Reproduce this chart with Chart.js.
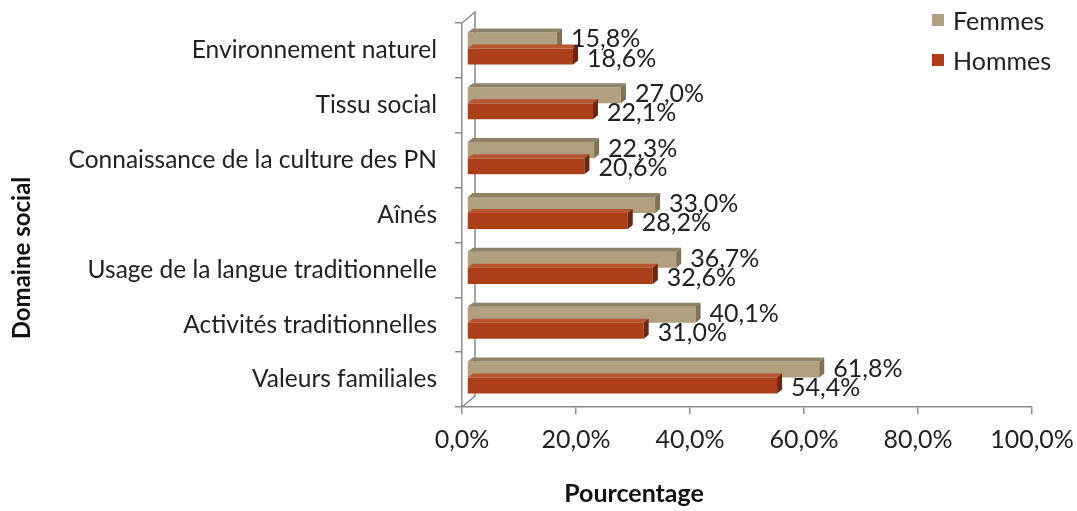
<!DOCTYPE html>
<html><head><meta charset="utf-8">
<script src="https://cdn.jsdelivr.net/npm/chart.js@4/dist/chart.umd.min.js"></script>
<style>
html,body{margin:0;padding:0;background:#fff;}
#wrap{position:relative;width:1077px;height:511px;}
#legend{position:absolute;left:932px;top:0px;font-family:Lato,"Open Sans",sans-serif;font-size:25px;color:#222;}
#legend div{display:flex;align-items:center;height:40px;}
#legend span.sw{display:inline-block;width:12px;height:12px;margin-right:9px;}
</style>
</head><body>
<div id="wrap"><canvas id="c" width="1077" height="511"></canvas>
<div id="legend"></div></div>
<script>
const categories = ["Environnement naturel","Tissu social","Connaissance de la culture des PN","Aînés","Usage de la langue traditionnelle","Activités traditionnelles","Valeurs familiales"];
const femmes = [15.8, 27.0, 22.3, 33.0, 36.7, 40.1, 61.8];
const hommes = [18.6, 22.1, 20.6, 28.2, 32.6, 31.0, 54.4];
const seriesNames = ["Femmes","Hommes"];
const xTicks = [0,20,40,60,80,100];
const xTitle = "Pourcentage";
const yTitle = "Domaine social";

const colors = ["#B1A07F","#AA3F18"];
const sideColors = ["#7E7159","#6C2710"];
const topColors = ["#8F8268","#B65530"];
const axisColor = "#8C8C8C";
const FONT = 'Lato, "Open Sans", sans-serif';
const fmt = v => v.toFixed(1).replace('.', ',') + '%';

const DX = 5, DY = 4;      // 3D depth of each bar
const SHIFT_X = 5, SHIFT_Y = -2;  // perspective offset of the bar layer
const WALL_X = 13, WALL_Y = 11;

const depthPlugin = {
  id:'depth',
  beforeDatasetsDraw(chart){
    const ctx = chart.ctx, a = chart.chartArea;
    ctx.save();
    ctx.strokeStyle = axisColor; ctx.lineWidth = 1.5;
    ctx.beginPath();
    ctx.moveTo(a.left, a.top); ctx.lineTo(a.left+WALL_X, a.top-WALL_Y);
    ctx.lineTo(a.left+WALL_X, a.bottom-WALL_Y); ctx.lineTo(a.left, a.bottom);
    ctx.stroke();
    ctx.restore();
    ctx.save();
    ctx.translate(SHIFT_X, SHIFT_Y);
  },
  afterDatasetsDraw(chart){
    const ctx = chart.ctx;
    chart.data.datasets.forEach((ds,di)=>{
      const meta = chart.getDatasetMeta(di);
      meta.data.forEach((el)=>{
        const p = el.getProps(['x','y','base','height'],true);
        const top = p.y - p.height/2, bot = p.y + p.height/2;
        ctx.fillStyle = topColors[di];
        ctx.beginPath();
        ctx.moveTo(p.base, top); ctx.lineTo(p.base+DX, top-DY);
        ctx.lineTo(p.x+DX, top-DY); ctx.lineTo(p.x, top); ctx.closePath(); ctx.fill();
        ctx.fillStyle = sideColors[di];
        ctx.beginPath();
        ctx.moveTo(p.x, top); ctx.lineTo(p.x+DX, top-DY);
        ctx.lineTo(p.x+DX, bot-DY); ctx.lineTo(p.x, bot); ctx.closePath(); ctx.fill();
      });
    });
    ctx.restore();
  }
};
const labelPlugin = {
  id:'vlabels',
  afterDraw(chart){
    const ctx = chart.ctx;
    ctx.save();
    ctx.font = '25px ' + FONT;
    ctx.fillStyle = '#222';
    ctx.textBaseline = 'middle';
    ctx.textAlign = 'left';
    chart.data.datasets.forEach((ds,di)=>{
      const meta = chart.getDatasetMeta(di);
      meta.data.forEach((el,i)=>{
        const p = el.getProps(['x','y'],true);
        ctx.fillText(fmt(ds.data[i]), p.x + SHIFT_X + 14, p.y + SHIFT_Y + (di===0?-1:2));
      });
    });
    // axis titles
    ctx.font = 'bold 25px ' + FONT;
    ctx.fillStyle = '#111';
    ctx.textAlign = 'center';
    ctx.fillText(xTitle, 634, 494);
    ctx.translate(22, 258);
    ctx.rotate(-Math.PI/2);
    ctx.font = 'bold 24px ' + FONT;
    ctx.fillText(yTitle, 0, 0);
    ctx.restore();
  }
};

document.getElementById('legend').innerHTML = seriesNames.map((n,i)=>
  `<div><span class="sw" style="background:${colors[i]}"></span>${n}</div>`).join('');

new Chart(document.getElementById('c'), {
  type:'bar',
  data:{ labels:categories, datasets:[
    {label:seriesNames[0], data:femmes, backgroundColor:colors[0], categoryPercentage:0.585, barPercentage:1.0},
    {label:seriesNames[1], data:hommes, backgroundColor:colors[1], categoryPercentage:0.585, barPercentage:1.0}
  ]},
  options:{
    indexAxis:'y', responsive:false, animation:false,
    layout:{padding:{top:23,right:45,left:0,bottom:0}},
    plugins:{legend:{display:false}, tooltip:{enabled:false}},
    scales:{
      x:{ min:0, max:100,
        afterBuildTicks(s){ s.ticks = xTicks.map(v=>({value:v})); },
        afterFit(s){ s.height = 104; s.paddingLeft = 0; s.paddingRight = 0; },
        grid:{display:true, drawOnChartArea:false, drawTicks:true, tickLength:7, color:axisColor, lineWidth:1.5},
        border:{display:true, color:axisColor, width:1.5},
        ticks:{ padding:11, color:'#222', font:{size:25, family:FONT}, callback:v=>fmt(v) },
        title:{display:false}
      },
      y:{
        afterFit(s){ s.width = 462; s.paddingTop = 0; s.paddingBottom = 0; },
        grid:{display:true, offset:true, drawOnChartArea:false, drawTicks:true, tickLength:7, color:axisColor, lineWidth:1.5},
        border:{display:true, color:axisColor, width:1.5},
        ticks:{ padding:18, color:'#222', font:{size:24.5, family:FONT} },
        title:{display:false}
      }
    }
  },
  plugins:[depthPlugin, labelPlugin]
});
</script>
</body></html>
